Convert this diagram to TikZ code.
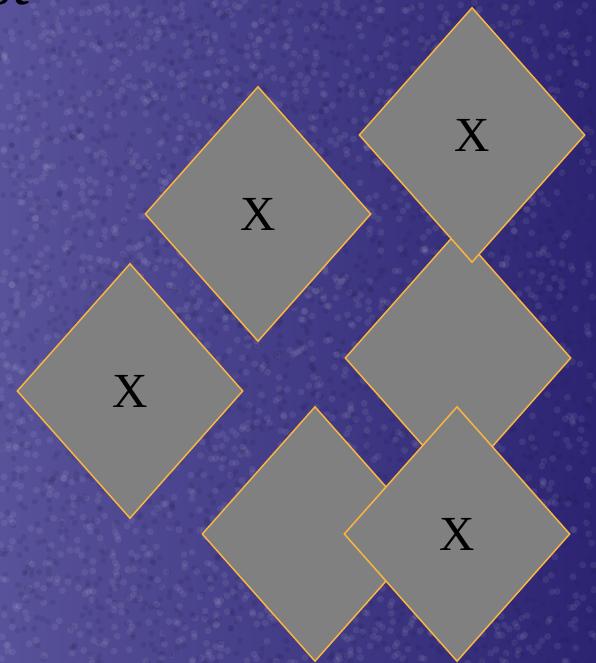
\documentclass[tikz,border=0pt]{standalone}
\usepackage{fontspec}
\setmainfont{Liberation Serif}
\usepackage{xcolor}
\usetikzlibrary{shapes.geometric}

\definecolor{bglight}{RGB}{88,82,154}
\definecolor{bgdark}{RGB}{44,36,114}
\definecolor{tilegray}{RGB}{128,128,128}
\definecolor{tileedge}{RGB}{250,180,64}

\tikzset{
    tile/.style={diamond, draw=tileedge, fill=tilegray, line width=1.5pt,
        minimum width=226pt, minimum height=255pt, inner sep=0pt,
        font=\fontsize{49}{52}\selectfont},
}

\begin{document}
\begin{tikzpicture}[x=1pt, y=-1pt]

    % ==========================================
    % Background
    % ==========================================
    \useasboundingbox (0,0) rectangle (596,663);
    \clip (0,0) rectangle (596,663);
    \shade[left color=bglight, right color=bgdark] (0,0) rectangle (596,663);

    % mottled texture
    \pgfmathsetseed{7}
    \foreach \i in {1,...,2200} {
        \pgfmathsetmacro{\px}{596*rnd}
        \pgfmathsetmacro{\py}{663*rnd}
        \fill[white, opacity=0.07] (\px,\py) circle (3.5pt);
    }
    \foreach \i in {1,...,2200} {
        \pgfmathsetmacro{\px}{596*rnd}
        \pgfmathsetmacro{\py}{663*rnd}
        \fill[bgdark!60!black, opacity=0.12] (\px,\py) circle (3pt);
    }

    % title remainder, cut by the top edge
    \node[anchor=base west, inner sep=0pt, font=\fontsize{64}{66}\selectfont] (title) at (-14,5) {st};

    % ==========================================
    % Tiles (drawn back to front)
    % ==========================================
    \node[tile] (left)   at (130,391) {X};
    \node[tile] (upper)  at (258,214) {X};
    \node[tile] (middle) at (458,358) {};
    \node[tile] (corner) at (472,135) {X};
    \node[tile] (lower)  at (315,534) {};
    \node[tile] (bottom) at (457,534) {X};

\end{tikzpicture}
\end{document}
